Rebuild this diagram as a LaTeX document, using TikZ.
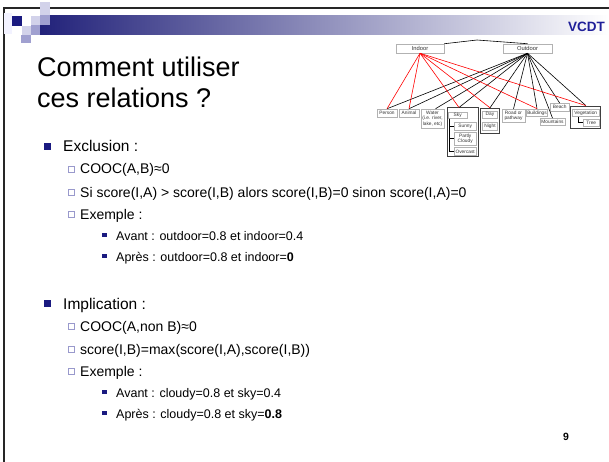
\documentclass[tikz,border=0pt]{standalone}
\usepackage{fontspec}
\setmainfont{Liberation Sans}
\usetikzlibrary{calc}
\definecolor{navy}{HTML}{1A1A80}
\definecolor{barnavy}{HTML}{22227A}
\definecolor{lav}{HTML}{9999CC}
\definecolor{lavlight}{HTML}{D2D2EA}
\definecolor{lavmid}{HTML}{A0A0D0}
\definecolor{vcdt}{HTML}{1F1F99}
\tikzset{
  dbox/.style={draw=gray!60, line width=0.5pt, fill=white, inner sep=0pt, align=center,
    font=\fontsize{4.8}{5.6}\selectfont, text=black!80},
  tbox/.style={dbox, font=\fontsize{5.8}{7}\selectfont},
  gbox/.style={draw=black!75, line width=1pt, inner sep=0pt},
  rl/.style={draw=red, line width=0.6pt},
  bl/.style={draw=black, line width=0.6pt},
  tl/.style={draw=black, line width=0.6pt},
  ttext/.style={anchor=base west, inner sep=0pt, font=\fontsize{27}{31}\selectfont},
  mtext/.style={anchor=base west, inner sep=0pt, font=\fontsize{15.5}{18}\selectfont},
  stext/.style={anchor=base west, inner sep=0pt, font=\fontsize{14}{17}\selectfont},
  sstext/.style={anchor=base west, inner sep=0pt, font=\fontsize{12.5}{15}\selectfont},
}
\newcommand\slmain[3]{%
  \fill[navy] (44,#2-9) rectangle (51,#2-2);
  \node[mtext] (#1) at (63,#2) {#3};}
\newcommand\slsub[3]{%
  \draw[lav, line width=0.7pt, fill=white] (68.5,#2-8) rectangle (74.5,#2-2);
  \node[stext] (#1) at (80,#2) {#3};}
\newcommand\slsubsub[3]{%
  \fill[navy] (102,#2-7.5) rectangle (106.5,#2-3);
  \node[sstext] (#1) at (116,#2) {#3};}
\begin{document}
\begin{tikzpicture}[x=1pt,y=-1pt]
\useasboundingbox (0,0) rectangle (609,462);
\fill[white] (0,0) rectangle (609,462);
% header
\shade[left color=barnavy, right color=white] (40,16) rectangle (609,35);
\draw[black!85, line width=1.5pt] (4,462) -- (4,8) -- (609,8);
\fill[blue!5!white] (4,13) rectangle (12,34);
\fill[navy] (12,16) rectangle (22,26);
\fill[lavlight] (22,26) rectangle (31,35);
\fill[lavlight] (31,16) rectangle (40,25);
\fill[lavmid] (31,25) rectangle (40,35);
\fill[lavmid] (21,35) rectangle (31,43);
\fill[lavlight] (40,2) rectangle (50,15);
\fill[lavmid] (40,15) rectangle (50,25);
\node[anchor=east, inner sep=0pt, text=vcdt, font=\bfseries\fontsize{13.5}{16}\selectfont] (vcdt) at (605,27) {VCDT};
% title
\node[ttext] (title1) at (37,77) {Comment utiliser};
\node[ttext] (title2) at (37,108) {ces relations ?};
% bullets
\slmain{excl}{152}{Exclusion :}
\slsub{e1}{174}{COOC(A,B)≈0}
\slsub{e2}{197}{Si score(I,A) > score(I,B) alors score(I,B)=0 sinon score(I,A)=0}
\slsub{e3}{219}{Exemple :}
\slsubsub{e4}{240}{Avant : outdoor=0.8 et indoor=0.4}
\slsubsub{e5}{261}{Après : outdoor=0.8 et indoor=\textbf{0}}
\slmain{impl}{309}{Implication :}
\slsub{i1}{331}{COOC(A,non B)≈0}
\slsub{i2}{354}{score(I,B)=max(score(I,A),score(I,B))}
\slsub{i3}{376}{Exemple :}
\slsubsub{i4}{397}{Avant : cloudy=0.8 et sky=0.4}
\slsubsub{i5}{418}{Après : cloudy=0.8 et sky=\textbf{0.8}}
\node[inner sep=0pt, font=\bfseries\fontsize{10.5}{12}\selectfont] (pg) at (566,437) {9};
% diagram
\node[tbox, minimum width=48pt, minimum height=9pt] (indoor) at (420,48.5) {Indoor};
\node[tbox, minimum width=49pt, minimum height=9pt] (outdoor) at (527.5,48.5) {Outdoor};
\coordinate (root) at (477,40);
\node[dbox, minimum width=20pt, minimum height=8pt] (person) at (387,113) {Person};
\node[dbox, minimum width=20pt, minimum height=8pt] (animal) at (409,113) {Animal};
\node[dbox, minimum width=23pt, minimum height=19pt] (water) at (432.5,118.5) {Water\\(i.e. river,\\lake, etc)};
\node[gbox, minimum width=31pt, minimum height=49pt] (skygrp) at (462.5,132.5) {};
\node[dbox, minimum width=18.6pt, minimum height=6.6pt] (sky) at (457.7,115.2) {Sky};
\node[dbox, minimum width=21.7pt, minimum height=7.7pt] (sunny) at (465.2,126.2) {Sunny};
\node[dbox, minimum width=21.7pt, minimum height=12.7pt] (partly) at (465.2,138.7) {Partly\\Cloudy};
\node[dbox, minimum width=21.7pt, minimum height=7.3pt] (overcast) at (465.2,151.4) {Overcast};
\node[gbox, minimum width=18.6pt, minimum height=25pt] (daygrp) at (490,120.8) {};
\node[dbox, minimum width=14.6pt, minimum height=7.3pt] (day) at (490,114.7) {Day};
\node[dbox, minimum width=14.6pt, minimum height=7.7pt] (night) at (490,126.2) {Night};
\node[dbox, minimum width=23pt, minimum height=13.3pt] (road) at (513.5,115.7) {Road or\\pathway};
\node[dbox, minimum width=20.6pt, minimum height=7.7pt] (buildings) at (537,112.8) {Buildings};
\node[dbox, minimum width=25pt, minimum height=7.4pt] (mountains) at (552.5,122) {Mountains};
\node[dbox, minimum width=19.3pt, minimum height=7.7pt] (beach) at (559.7,107.2) {Beach};
\node[gbox, minimum width=30.3pt, minimum height=22.3pt] (veggrp) at (585.8,117.2) {};
\node[dbox, minimum width=27pt, minimum height=7.7pt] (vegetation) at (585.8,112.8) {Vegetation};
\node[dbox, minimum width=16pt, minimum height=7.7pt] (tree) at (591.3,122.8) {Tree};
% hierarchy lines
\draw[tl] (indoor.north east) -- (root) -- (outdoor.north);
\draw[tl] ([xshift=1.5pt]sky.south west) |- (sunny.west);
\draw[tl] ([xshift=1.5pt]sky.south west) |- (partly.west);
\draw[tl] ([xshift=1.5pt]sky.south west) |- (overcast.west);
\draw[tl] ([xshift=6pt]vegetation.south west) |- (tree.west);
% outdoor links
\foreach \t in {person,animal,daygrp,road,buildings,mountains,beach,veggrp}
  \draw[bl] (outdoor.south) -- (\t.north);
\draw[bl] (outdoor.south) -- ([xshift=3pt]water.north);
\draw[bl] (outdoor.south) -- ([xshift=-3.5pt]skygrp.north);
% indoor links
\foreach \t in {person,animal,daygrp,buildings,veggrp}
  \draw[rl] (indoor.south) -- (\t.north);
\draw[rl] (indoor.south) -- ([xshift=-3.5pt]skygrp.north);
\end{tikzpicture}
\end{document}
